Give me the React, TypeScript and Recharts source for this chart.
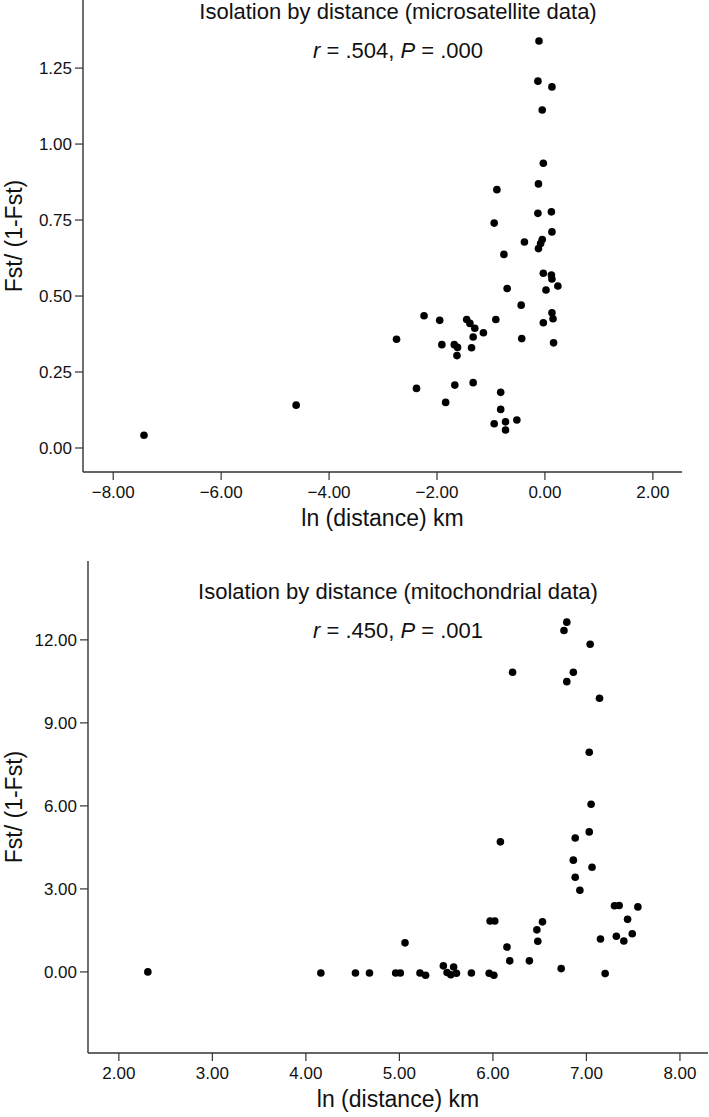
import React from "react";
import { ScatterChart, Scatter, XAxis, YAxis } from "recharts";

// microsatellite panel: ln(distance) vs Fst/(1-Fst)
const MICRO_X = [
  -0.11, -0.13, 0.13, -0.05, -0.03, -0.12, -0.89, -0.13, 0.12, -0.94, 0.13, -0.38, -0.05, -0.08,
  -0.12, -0.76, -0.03, 0.12, 0.13, 0.24, -0.7, 0.02, -0.44, 0.13, 0.15, -0.03, -2.24, -1.95, -1.45,
  -1.39, -1.3, -0.91, -1.14, -1.33, -2.75, -1.91, -1.68, -1.62, -1.36, -1.63, -0.43, 0.16, -2.38,
  -1.67, -1.33, -1.84, -0.82, -0.82, -0.52, -0.94, -0.73, -0.73, -7.43, -4.61,
];
const MICRO_Y = [
  1.339, 1.207, 1.188, 1.112, 0.937, 0.869, 0.85, 0.772, 0.777, 0.74, 0.711, 0.678, 0.686, 0.673,
  0.656, 0.637, 0.575, 0.569, 0.556, 0.533, 0.525, 0.52, 0.47, 0.445, 0.425, 0.412, 0.435, 0.42,
  0.423, 0.41, 0.394, 0.423, 0.379, 0.365, 0.358, 0.34, 0.34, 0.331, 0.33, 0.304, 0.36, 0.346,
  0.196, 0.207, 0.215, 0.15, 0.183, 0.127, 0.092, 0.08, 0.086, 0.059, 0.042, 0.141,
];

// mitochondrial panel
const MITO_X = [
  2.31, 4.16, 4.53, 4.68, 4.96, 5.01, 5.06, 5.22, 5.28, 5.47, 5.51, 5.55, 5.58, 5.61, 5.77, 5.97,
  6.02, 5.96, 6.01, 6.08, 6.15, 6.18, 6.21, 6.39, 6.47, 6.48, 6.53, 6.73, 6.79, 6.76, 6.86, 6.79,
  7.04, 7.14, 7.03, 7.05, 7.03, 6.88, 6.86, 7.06, 6.88, 6.93, 7.3, 7.35, 7.55, 7.44, 7.15, 7.32,
  7.4, 7.49, 7.2,
];
const MITO_Y = [
  0.0, -0.04, -0.04, -0.04, -0.04, -0.04, 1.05, -0.04, -0.12, 0.22, -0.02, -0.1, 0.18, -0.05,
  -0.04, 1.84, 1.84, -0.05, -0.12, 4.7, 0.9, 0.4, 10.83, 0.4, 1.52, 1.11, 1.81, 0.12, 12.64, 12.34,
  10.83, 10.49, 11.84, 9.89, 7.94, 6.06, 5.06, 4.84, 4.04, 3.78, 3.42, 2.95, 2.39, 2.4, 2.35, 1.9,
  1.19, 1.29, 1.12, 1.38, -0.06,
];

const MICRO_X_TICKS = [-8, -6, -4, -2, 0, 2];
const MICRO_Y_TICKS = [0, 0.25, 0.5, 0.75, 1.0, 1.25];
const MITO_X_TICKS = [2, 3, 4, 5, 6, 7, 8];
const MITO_Y_TICKS = [0, 3, 6, 9, 12];

const FONT = '"Liberation Sans", Arial, sans-serif';
const AXIS = "#333";

const fmt = (v: number) => (v < 0 ? "\u2212" + Math.abs(v).toFixed(2) : v.toFixed(2));

const Dot = (p: any) => <circle cx={p.cx} cy={p.cy} r={3.8} fill="#000" />;

const yTitle = (p: any) => {
  const vb = p.viewBox;
  const cx = 14;
  const cy = vb.y + vb.height / 2;
  return (
    <text
      x={cx}
      y={cy}
      transform={`rotate(-90 ${cx} ${cy})`}
      textAnchor="middle"
      dominantBaseline="central"
      fontSize={23}
      fill="#111"
      fontFamily={FONT}
    >
      Fst/ (1-Fst)
    </text>
  );
};

const xTitle = (p: any) => {
  const vb = p.viewBox;
  return (
    <text
      x={vb.x + vb.width / 2}
      y={vb.y + 46}
      textAnchor="middle"
      dominantBaseline="central"
      fontSize={23}
      fill="#111"
      fontFamily={FONT}
    >
      ln (distance) km
    </text>
  );
};

function Heading({ top, title, r, p }: { top: number; title: string; r: string; p: string }) {
  const base: React.CSSProperties = {
    position: "absolute",
    left: 148,
    width: 500,
    textAlign: "center",
    fontFamily: FONT,
    fontSize: 22,
    lineHeight: "22px",
    color: "#111",
  };
  return (
    <>
      <div style={{ ...base, top: top - 11 }}>{title}</div>
      <div style={{ ...base, top: top + 28 }}>
        <i>r</i> = {r}, <i>P</i> = {p}
      </div>
    </>
  );
}

function Panel({
  xs,
  ys,
  xDomain,
  yDomain,
  xTicks,
  yTicks,
  width,
  height,
  yAxisWidth,
  xAxisHeight,
  right,
}: {
  xs: number[];
  ys: number[];
  xDomain: [number, number];
  yDomain: [number, number];
  xTicks: number[];
  yTicks: number[];
  width: number;
  height: number;
  yAxisWidth: number;
  xAxisHeight: number;
  right: number;
}) {
  const data = xs.map((x, i) => ({ x, y: ys[i] }));
  const tick = { fontSize: 17, fill: "#111", fontFamily: FONT };
  return (
    <ScatterChart width={width} height={height} margin={{ top: 0, right, bottom: 0, left: 0 }}>
      <XAxis
        type="number"
        dataKey="x"
        domain={xDomain}
        ticks={xTicks}
        allowDataOverflow
        tickFormatter={fmt}
        tick={tick}
        tickSize={8}
        tickMargin={6}
        height={xAxisHeight}
        axisLine={{ stroke: AXIS, strokeWidth: 1.4 }}
        tickLine={{ stroke: AXIS, strokeWidth: 1.2 }}
        label={{ content: xTitle }}
      />
      <YAxis
        type="number"
        dataKey="y"
        domain={yDomain}
        ticks={yTicks}
        allowDataOverflow
        tickFormatter={fmt}
        tick={tick}
        tickSize={8}
        tickMargin={3}
        width={yAxisWidth}
        axisLine={{ stroke: AXIS, strokeWidth: 1.4 }}
        tickLine={{ stroke: AXIS, strokeWidth: 1.2 }}
        label={{ content: yTitle }}
      />
      <Scatter data={data} shape={Dot} isAnimationActive={false} />
    </ScatterChart>
  );
}

export default function App() {
  return (
    <div
      style={{
        position: "absolute",
        left: 0,
        top: 0,
        width: 709,
        height: 1117,
        background: "#fff",
        overflow: "hidden",
      }}
    >
      <div style={{ position: "absolute", left: 0, top: 0 }}>
        <Panel
          xs={MICRO_X}
          ys={MICRO_Y}
          xDomain={[-8.56, 2.54]}
          yDomain={[-0.079, 1.474]}
          xTicks={MICRO_X_TICKS}
          yTicks={MICRO_Y_TICKS}
          width={709}
          height={535}
          yAxisWidth={83}
          xAxisHeight={63}
          right={27}
        />
      </div>
      <div style={{ position: "absolute", left: 0, top: 561 }}>
        <Panel
          xs={MITO_X}
          ys={MITO_Y}
          xDomain={[1.67, 8.3]}
          yDomain={[-2.93, 14.85]}
          xTicks={MITO_X_TICKS}
          yTicks={MITO_Y_TICKS}
          width={709}
          height={556}
          yAxisWidth={88}
          xAxisHeight={64}
          right={1}
        />
      </div>
      <Heading top={12} title="Isolation by distance (microsatellite data)" r=".504" p=".000" />
      <Heading top={592} title="Isolation by distance (mitochondrial data)" r=".450" p=".001" />
    </div>
  );
}
